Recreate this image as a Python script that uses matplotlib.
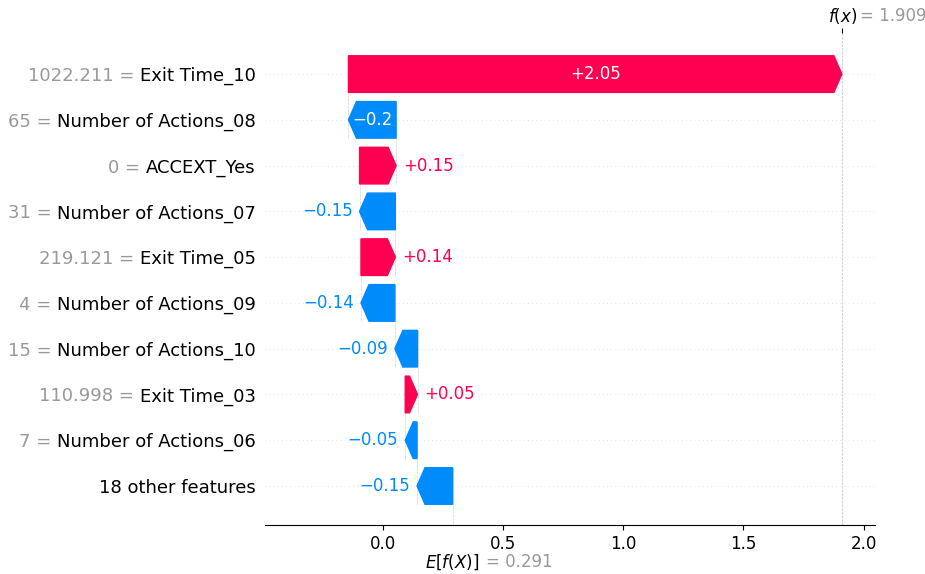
import re
import numpy as np
import matplotlib.pyplot as plt

# model output pieces
base_value = 0.291
feature_names = ['Exit Time_10', 'Number of Actions_08', 'ACCEXT_Yes', 'Number of Actions_07',
                 'Exit Time_05', 'Number of Actions_09', 'Number of Actions_10', 'Exit Time_03',
                 'Number of Actions_06', '18 other features']
feature_values = ['1022.211', '65', '0', '31', '219.121', '4', '15', '110.998', '7', '']
shap_values = [2.051, -0.198, 0.152, -0.149, 0.143, -0.141, -0.094, 0.051, -0.049, -0.148]

RED = '#ff0051'
BLUE = '#008bfb'
GRAY = '#999999'


def format_value(v, fmt):
    s = fmt % v
    s = re.sub(r'\.?0+$', '', s)
    if s[0] == '-':
        s = '\u2212' + s[1:]
    return s


fx = base_value + sum(shap_values)
n = len(feature_names)
ypos = np.arange(n)[::-1]
bar_width = 0.8

fig = plt.figure(figsize=(9.25, 5.74), dpi=100)
ax = fig.add_axes([0.287, 0.0854, 0.659, 0.857])
ax.set_xlim(-0.487, 2.047)
ax.set_ylim(-0.852, 9.896)

xlen = ax.get_xlim()[1] - ax.get_xlim()[0]
ax_w_in = ax.get_position().width * fig.get_figwidth()
to_data = xlen / ax_w_in
hl_scaled = 0.08 * to_data
text_pad = 5 / 72 * to_data

renderer = fig.canvas.get_renderer()

loc = fx
for i in range(n):
    v = shap_values[i]
    y = ypos[i]
    loc -= v
    ax.axhline(y, color='#cccccc', lw=0.5, dashes=(1, 5), zorder=-1)
    ax.plot([loc, loc], [y - 1 - 0.4, y + 0.4], color='#bbbbbb', ls='--', lw=0.5,
            dashes=(1, 1), zorder=-1)

    color = RED if v >= 0 else BLUE
    arrow = ax.arrow(loc, y, v, 0, head_length=min(abs(v), hl_scaled), width=bar_width,
                     head_width=bar_width, length_includes_head=True, color=color)

    label = format_value(v, '%+0.02f')
    txt = ax.text(loc + v / 2, y, label, ha='center', va='center', color='white', fontsize=12)
    if txt.get_window_extent(renderer).width > arrow.get_window_extent(renderer).width:
        txt.remove()
        if v >= 0:
            ax.text(loc + v + text_pad, y, label, ha='left', va='center', color=RED, fontsize=12)
        else:
            ax.text(loc + v - text_pad, y, label, ha='right', va='center', color=BLUE, fontsize=12)

ax.axvline(fx, color='#bbbbbb', ls='--', lw=0.5, zorder=-1)

ax.set_yticks(ypos)
ax.set_yticklabels(feature_names, fontsize=13)
ax.yaxis.set_ticks_position('none')

ax.set_xticks([0.0, 0.5, 1.0, 1.5, 2.0])
ax.tick_params(axis='x', labelsize=12)
for side in ['top', 'left', 'right']:
    ax.spines[side].set_visible(False)

# gray feature values in front of the names
fig.canvas.draw()
space_probe = fig.text(0, 0, 'a a', fontsize=13)
pair_probe = fig.text(0, 0, 'aa', fontsize=13)
space_px = (space_probe.get_window_extent(renderer).width
            - pair_probe.get_window_extent(renderer).width)
space_probe.remove()
pair_probe.remove()
ax_left_px = ax.get_window_extent(renderer).x0
ytrans = ax.get_yaxis_transform()
for lab, val, y in zip(ax.get_yticklabels(), feature_values, ypos):
    if not val:
        continue
    x0 = lab.get_window_extent(renderer).x0
    off_pt = -(ax_left_px - x0 + space_px) * 72 / fig.dpi
    ax.annotate(f'{val} =', xy=(0, y), xycoords=ytrans, xytext=(off_pt, 0),
                textcoords='offset points', ha='right', va='center_baseline',
                fontsize=13, color=GRAY)

# f(x) tick on top
ax_top = ax.twiny()
ax_top.set_xlim(ax.get_xlim())
ax_top.set_xticks([fx])
ax_top.set_xticklabels([''])
for s in ax_top.spines.values():
    s.set_visible(False)

trans = ax.get_xaxis_transform()
ax.annotate('$E[f(X)]$', xy=(base_value, 0), xycoords=trans, xytext=(19, -26.5),
            textcoords='offset points', ha='right', va='center', fontsize=12, color='black')
ax.annotate('= ' + format_value(base_value, '%0.03f'), xy=(base_value, 0), xycoords=trans,
            xytext=(24, -26.5), textcoords='offset points', ha='left', va='center',
            fontsize=12, color=GRAY)
ax.annotate('$f(x)$', xy=(fx, 1), xycoords=trans, xytext=(10.8, 12.2),
            textcoords='offset points', ha='right', va='center', fontsize=12, color='black')
ax.annotate('= ' + format_value(fx, '%0.03f'), xy=(fx, 1), xycoords=trans,
            xytext=(13, 12.2), textcoords='offset points', ha='left', va='center',
            fontsize=12, color=GRAY)

fig.savefig('out.png', dpi=100)
